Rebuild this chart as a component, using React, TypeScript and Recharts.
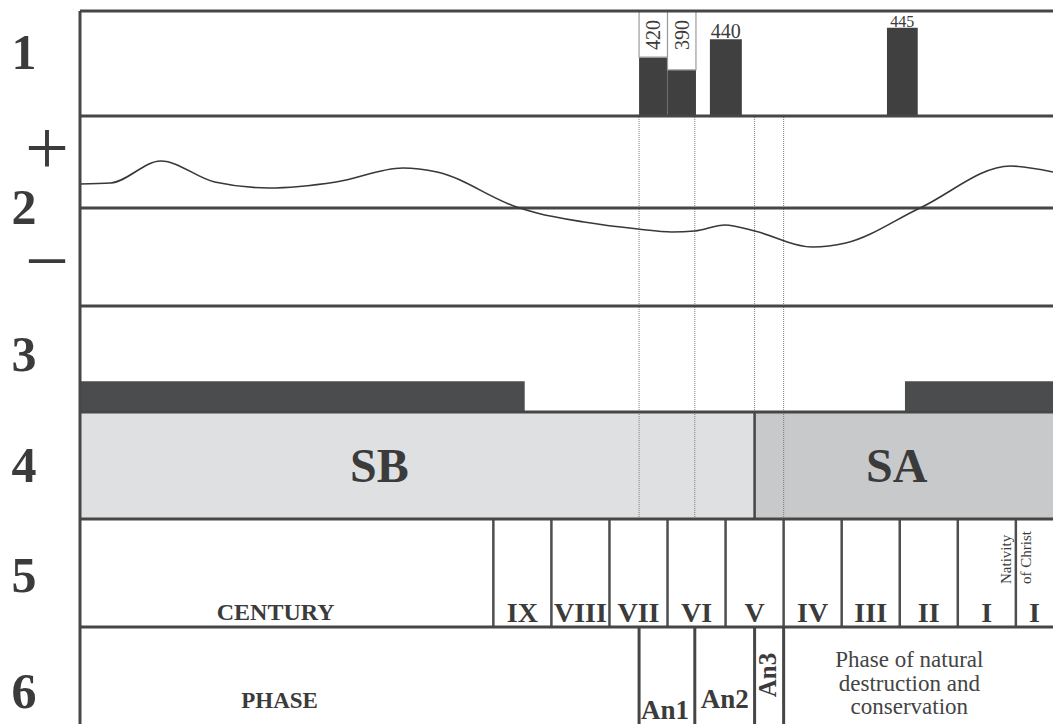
import React from 'react';
import { ComposedChart, Line, XAxis, YAxis, ReferenceLine, ReferenceArea } from 'recharts';

// ---------------- data ----------------
const YEAR_DOMAIN: [number, number] = [-1612, 64];

// panel 1 – radiocarbon dates
const dateLabels = ['420', '390', '440', '445'];
const dateStart = [-649, -600, -527, -222];
const dateEnd = [-600, -551, -472, -169];
const dateHeight = [56, 44, 73, 84];
const dateBoxed = [true, true, false, false];

// panel 2 – deviation curve
const curveYears = [-1612, -1559, -1473, -1380, -1287, -1171, -1056, -997, -860, -825, -744, -651, -593, -553, -501, -450, -350, -293, -165, -9, 64];
const curveValues = [24, 25, 47, 26, 20, 26, 40, 36, 1, -5, -14, -21, -24, -23, -17, -23, -39, -35, 0, 42, 36];

// dotted marker lines
const markerYears = [-649, -553, -450, -400];

// panel 3 – bands
const bandStart = [-1612, -191];
const bandEnd = [-846, 64];
const bandHeight = [29, 29];

// panel 4 – stages
const stageNames = ['SB', 'SA'];
const stageStart = [-1612, -450];
const stageEnd = [-450, 64];

// panel 5 – centuries
const centuryCaption = 'CENTURY';
const centuryNames = ['IX', 'VIII', 'VII', 'VI', 'V', 'IV', 'III', 'II', 'I', 'I'];
const centuryStart = [-900, -800, -700, -600, -500, -400, -300, -200, -100, 0];
const centuryEnd = [-800, -700, -600, -500, -400, -300, -200, -100, 0, 64];
const nativityLines = ['Nativity', 'of Christ'];
const NATIVITY_YEAR = 0;

// panel 6 – phases
const phaseNames = ['PHASE', 'An1', 'An2', 'An3', 'Phase of natural destruction and conservation'];
const phaseStart = [-1612, -649, -553, -450, -400];
const phaseEnd = [-649, -553, -450, -400, 64];

const rowNumbers = ['1', '2', '3', '4', '5', '6'];

// ---------------- styles ----------------
const W = 1053;
const LEFT = 80;
const INK = '#3b3b3b';
const FRAME = '#464646';
const SERIF = '"Liberation Serif", "Times New Roman", serif';
const ROW_FONT = 50;
const DATE_FONT: Record<string, number> = { '420': 20, '390': 20, '440': 20, '445': 16 };
const STAGE_DX: Record<string, number> = { SB: -38, SA: -7 };
const STAGE_FILL: Record<string, string> = { SB: '#dfe0e2', SA: '#c8c9cb' };

const curveData = curveYears.map((year, i) => ({ year, value: curveValues[i] }));

const mid = (vb: any) => vb.x + vb.width / 2;

function Panel({ top, height, yDomain, data, children }: any) {
  return (
    <div style={{ position: 'absolute', left: 0, top, width: W, height }}>
      <ComposedChart width={W} height={height} data={data || []} margin={{ top: 0, right: 0, bottom: 0, left: LEFT }}>
        <XAxis dataKey="year" type="number" domain={YEAR_DOMAIN} allowDataOverflow hide />
        <YAxis type="number" domain={yDomain} allowDataOverflow hide />
        {children}
      </ComposedChart>
    </div>
  );
}

const rowText = (text: string, baseline: number) => (props: any) => (
  <text x={props.viewBox.x - 56} y={props.viewBox.y + baseline} textAnchor="middle" fontFamily={SERIF} fontWeight={700} fontSize={ROW_FONT} fill={INK}>
    {text}
  </text>
);

const row2Text = (props: any) => {
  const vb = props.viewBox;
  return (
    <g fontFamily={SERIF} fill={INK}>
      <text x={vb.x - 33} y={vb.y + 58} textAnchor="middle" fontSize={78}>+</text>
      <text x={vb.x - 56} y={vb.y + 108} textAnchor="middle" fontSize={ROW_FONT} fontWeight={700}>{rowNumbers[1]}</text>
      <text x={vb.x - 33} y={vb.y + 171} textAnchor="middle" fontSize={78}>−</text>
    </g>
  );
};

function frame(key: string, yTop: number, label: any) {
  return [
    <ReferenceLine key={key + '-top'} y={yTop} stroke={FRAME} strokeWidth={3} />,
    <ReferenceLine key={key + '-left'} x={YEAR_DOMAIN[0]} stroke={FRAME} strokeWidth={3} label={label} />,
  ];
}

function dotted(key: string, years: number[]) {
  return years.map((yr, i) => (
    <ReferenceLine key={key + i} x={yr} stroke="#7c7c7c" strokeWidth={1} strokeDasharray="1 1" />
  ));
}

const dateTopLabel = (text: string) => (props: any) => (
  <text x={mid(props.viewBox)} y={props.viewBox.y - 1} textAnchor="middle" fontFamily={SERIF} fontSize={DATE_FONT[text]} fill={INK}>
    {text}
  </text>
);

const dateBoxLabel = (text: string) => (props: any) => {
  const x = mid(props.viewBox) + 7;
  const y = props.viewBox.y + 9;
  return (
    <text x={x} y={y} transform={`rotate(-90 ${x} ${y})`} textAnchor="end" fontFamily={SERIF} fontSize={DATE_FONT[text]} fill={INK}>
      {text}
    </text>
  );
};

const stageLabel = (text: string) => (props: any) => (
  <text x={mid(props.viewBox) + STAGE_DX[text]} y={props.viewBox.y + 70} textAnchor="middle" fontFamily={SERIF} fontWeight={700} fontSize={48} fill={INK}>
    {text}
  </text>
);

const centuryLabel = (text: string, size: number, baseline: number, dx: number) => (props: any) => (
  <text x={mid(props.viewBox) + dx} y={props.viewBox.y + baseline} textAnchor="middle" fontFamily={SERIF} fontWeight={700} fontSize={size} fill={INK}>
    {text}
  </text>
);

const nativityLabel = (props: any) => {
  const vb = props.viewBox;
  const y = vb.y + 65;
  const xs = [vb.x - 5, vb.x + 15];
  return (
    <g>
      {nativityLines.map((t, i) => (
        <text key={t} x={xs[i]} y={y} transform={`rotate(-90 ${xs[i]} ${y})`} textAnchor="start" fontFamily={SERIF} fontSize={15} fill={INK}>
          {t}
        </text>
      ))}
    </g>
  );
};

const phaseLabel = (i: number) => (props: any) => {
  const vb = props.viewBox;
  const c = mid(vb);
  const name = phaseNames[i];
  if (i === 0) {
    return <text x={c - 80} y={vb.y + 81} textAnchor="middle" fontFamily={SERIF} fontWeight={700} fontSize={23} fill={INK}>{name}</text>;
  }
  if (i === 1) {
    return <text x={c - 2} y={vb.y + 92} textAnchor="middle" fontFamily={SERIF} fontWeight={700} fontSize={27} fill={INK}>{name}</text>;
  }
  if (i === 2) {
    return <text x={c} y={vb.y + 81} textAnchor="middle" fontFamily={SERIF} fontWeight={700} fontSize={27} fill={INK}>{name}</text>;
  }
  if (i === 3) {
    const x = c + 7;
    const y = vb.y + 48;
    return <text x={x} y={y} transform={`rotate(-90 ${x} ${y})`} textAnchor="middle" fontFamily={SERIF} fontWeight={700} fontSize={25} fill={INK}>{name}</text>;
  }
  const words = ['Phase of natural', 'destruction and', 'conservation'];
  return (
    <text textAnchor="middle" fontFamily={SERIF} fontSize={23} fill="#444">
      {words.map((w, k) => (
        <tspan key={k} x={c - 9} y={vb.y + 40 + k * 23.5}>{w}</tspan>
      ))}
    </text>
  );
};

export default function App() {
  const stageBoundary = stageStart[1];
  return (
    <div style={{ position: 'absolute', left: 0, top: 0, width: W, height: 724, background: '#fff', overflow: 'hidden' }}>
      <style>{`.recharts-surface{overflow:visible}`}</style>

      {/* Panel 1 */}
      <Panel top={11} height={105} yDomain={[0, 100]}>
        {dateLabels.map((lab, i) => (
          <ReferenceArea key={'bar' + i} x1={dateStart[i]} x2={dateEnd[i]} y1={0} y2={dateHeight[i]} fill="#404040" fillOpacity={1} stroke="none"
            label={dateBoxed[i] ? undefined : dateTopLabel(lab)} />
        ))}
        {dateLabels.map((lab, i) => dateBoxed[i] ? (
          <ReferenceArea key={'box' + i} x1={dateStart[i]} x2={dateEnd[i]} y1={dateHeight[i]} y2={100} fill="#ffffff" fillOpacity={1} stroke="#9c9c9c" strokeWidth={1.2}
            label={dateBoxLabel(lab)} />
        ) : null)}
        {frame('p1', 100, rowText(rowNumbers[0], 58))}
      </Panel>

      {/* Panel 2 */}
      <Panel top={116} height={190} yDomain={[-98, 92]} data={curveData}>
        {dotted('p2d', markerYears)}
        <ReferenceLine y={0} stroke={FRAME} strokeWidth={3} />
        <Line type="monotone" dataKey="value" stroke="#383838" strokeWidth={1.6} dot={false} isAnimationActive={false} />
        {frame('p2', 92, row2Text)}
      </Panel>

      {/* Panel 3 */}
      <Panel top={306} height={106} yDomain={[0, 100]}>
        {dotted('p3d', markerYears)}
        {bandStart.map((s, i) => (
          <ReferenceArea key={'band' + i} x1={s} x2={bandEnd[i]} y1={0} y2={bandHeight[i]} fill="#4b4c4e" fillOpacity={1} stroke="none" />
        ))}
        {frame('p3', 100, rowText(rowNumbers[2], 65))}
      </Panel>

      {/* Panel 4 */}
      <Panel top={412} height={107} yDomain={[0, 100]}>
        {stageNames.map((n, i) => (
          <ReferenceArea key={'stage' + i} x1={stageStart[i]} x2={stageEnd[i]} y1={0} y2={100} fill={STAGE_FILL[n]} fillOpacity={1} stroke="none" label={stageLabel(n)} />
        ))}
        {dotted('p4d', markerYears.filter((y) => y !== stageBoundary))}
        <ReferenceLine x={stageBoundary} stroke={FRAME} strokeWidth={2.5} />
        {frame('p4', 100, rowText(rowNumbers[3], 70))}
      </Panel>

      {/* Panel 5 */}
      <Panel top={519} height={108} yDomain={[0, 100]}>
        <ReferenceArea x1={YEAR_DOMAIN[0]} x2={centuryStart[0]} y1={0} y2={100} fillOpacity={0} stroke="none" label={centuryLabel(centuryCaption, 24, 101, -11)} />
        {centuryNames.map((n, i) => (
          <ReferenceArea key={'cen' + i} x1={centuryStart[i]} x2={centuryEnd[i]} y1={0} y2={100} fillOpacity={0} stroke="none" label={centuryLabel(n, 28, 103, 0)} />
        ))}
        {centuryStart.map((s, i) => (
          <ReferenceLine key={'cl' + i} x={s} stroke="#4e4e4e" strokeWidth={2.5} label={s === NATIVITY_YEAR ? nativityLabel : undefined} />
        ))}
        {frame('p5', 100, rowText(rowNumbers[4], 73))}
      </Panel>

      {/* Panel 6 */}
      <Panel top={627} height={97} yDomain={[0, 100]}>
        {phaseNames.map((n, i) => (
          <ReferenceArea key={'ph' + i} x1={phaseStart[i]} x2={phaseEnd[i]} y1={0} y2={100} fillOpacity={0} stroke="none" label={phaseLabel(i)} />
        ))}
        {phaseStart.slice(1).map((s, i) => (
          <ReferenceLine key={'pl' + i} x={s} stroke={FRAME} strokeWidth={3} />
        ))}
        {frame('p6', 100, rowText(rowNumbers[5], 81))}
      </Panel>
    </div>
  );
}
